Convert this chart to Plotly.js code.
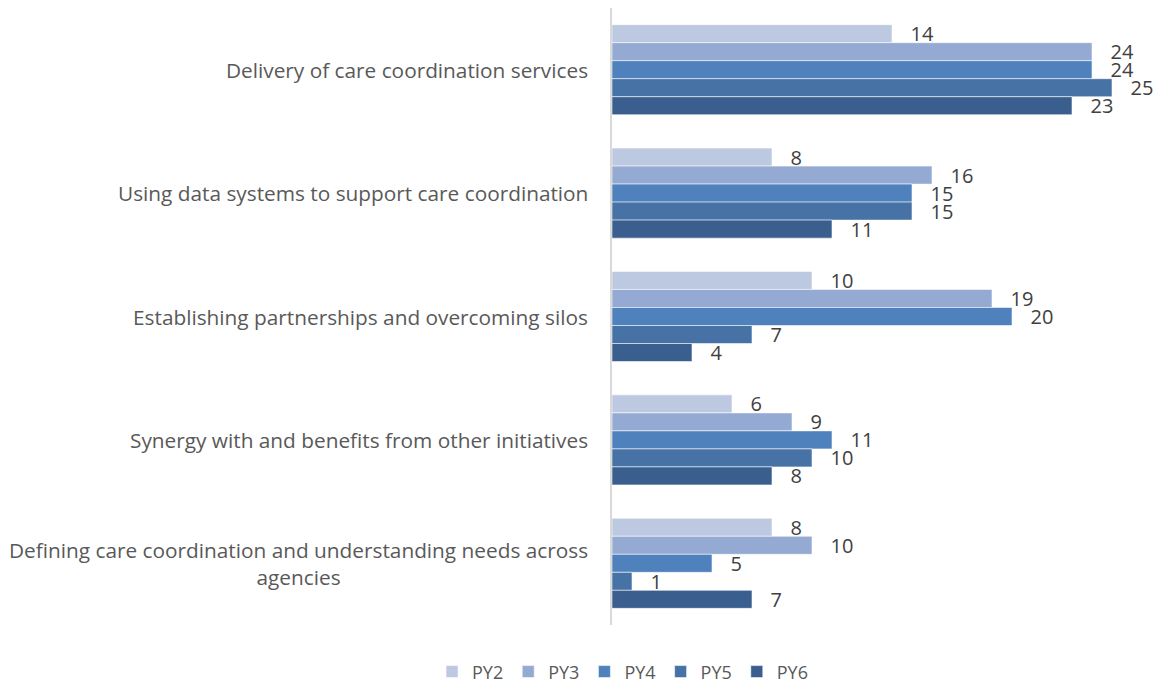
<!DOCTYPE html>
<html>
<head>
<meta charset="utf-8">
<script src="https://cdn.plot.ly/plotly-3.0.1.min.js"></script>
<style>html,body{margin:0;padding:0;background:#fff;}#chart{width:1155px;height:687px;}</style>
</head>
<body>
<div id="chart"></div>
<script>
const categories = [
  "Delivery of care coordination services",
  "Using data systems to support care coordination",
  "Establishing partnerships and overcoming silos",
  "Synergy with and benefits from other initiatives",
  "Defining care coordination and understanding needs across<br>agencies"
];
const seriesNames = ["PY2", "PY3", "PY4", "PY5", "PY6"];
const PY2 = [14, 8, 10, 6, 8];
const PY3 = [24, 16, 19, 9, 10];
const PY4 = [24, 15, 20, 11, 5];
const PY5 = [25, 15, 7, 10, 1];
const PY6 = [23, 11, 4, 8, 7];
const seriesValues = [PY2, PY3, PY4, PY5, PY6];
const colors = ["#BDC9E1", "#94AAD2", "#4F81BD", "#4672A6", "#3A5F8F"];

const FONT = "'Open Sans', Lato, sans-serif";

const traces = seriesNames.map((name, i) => ({
  type: "bar",
  orientation: "h",
  name: name,
  x: seriesValues[i],
  y: categories,
  marker: {color: colors[i], line: {color: "rgba(255,255,255,0.55)", width: 1}},
  text: seriesValues[i].map(String),
  texttemplate: "   %{text}",
  textposition: "outside",
  constraintext: "none",
  cliponaxis: false,
  textfont: {family: FONT, size: 20, color: "#404040"},
  hoverinfo: "x+name"
}));

const annotations = categories.map(c => ({
  xref: "paper",
  yref: "y",
  x: 0,
  y: c,
  xanchor: "right",
  yanchor: "middle",
  xshift: -22,
  align: "center",
  showarrow: false,
  text: c,
  font: {family: FONT, size: 20.8, color: "#595959"}
}));

const layout = {
  width: 1155,
  height: 687,
  margin: {l: 612, r: 3, t: 8, b: 62},
  paper_bgcolor: "#ffffff",
  plot_bgcolor: "#ffffff",
  barmode: "group",
  bargap: 0.27,
  bargroupgap: 0,
  font: {family: FONT, color: "#595959"},
  xaxis: {
    range: [0, 27],
    showticklabels: false,
    showgrid: false,
    zeroline: false,
    showline: false,
    ticks: ""
  },
  yaxis: {
    autorange: "reversed",
    categoryorder: "array",
    categoryarray: categories,
    showline: true,
    linecolor: "#D9D9D9",
    linewidth: 2,
    ticks: "",
    showticklabels: false,
    showgrid: false
  },
  annotations: annotations,
  showlegend: true,
  legend: {
    orientation: "h",
    xref: "container",
    yref: "container",
    x: 0.539,
    xanchor: "center",
    y: 0.022,
    yanchor: "middle",
    font: {family: FONT, size: 18, color: "#595959"},
    traceorder: "normal",
    itemwidth: 30
  }
};

Plotly.newPlot("chart", traces, layout, {displayModeBar: false, staticPlot: true});
</script>
</body>
</html>
